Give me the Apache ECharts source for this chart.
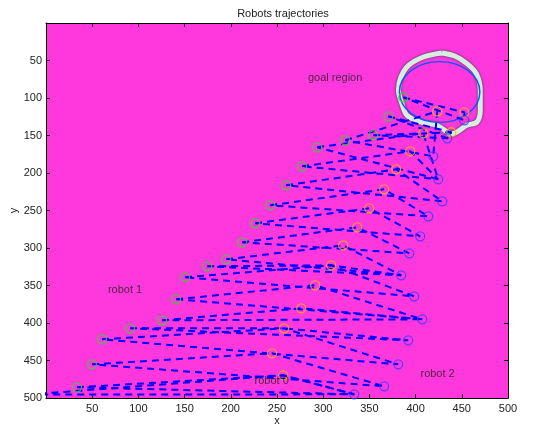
<!DOCTYPE html>
<html><head><meta charset="utf-8">
<script src="https://cdn.jsdelivr.net/npm/echarts@6/dist/echarts.min.js"></script>
<style>html,body{margin:0;padding:0;background:#fff}#c{width:539px;height:428px}</style>
</head><body><div id="c"></div>
<script>
// Axis settings
const axisMin = 0, axisMax = 500, axisStep = 50;
const titleText = 'Robots trajectories';

// Robot 1 (green circles), first point lies outside the view (left edge)
const robot1 = [[-20,495.5],[33.6,485.7],[49.8,455.1],[60.6,421.7],[91.0,407.1],[125.6,396.4],[140.8,368.4],[150.5,339.1],[174.4,324.4],[195.0,315.1],[212.3,292.4],[226.3,267.1],[242.6,243.1],[259.9,216.4],[277.2,191.1],[293.5,165.7],[323.8,156.4],[354.1,149.7],[370.4,124.4],[386.6,99.1]];
// Robot 0 (yellow circles)
const robot0 = [[256.7,469.7],[244.7,440.4],[257.7,407.1],[276.2,380.4],[291.3,349.7],[308.6,323.1],[321.6,296.4],[336.8,272.4],[349.8,247.1],[366.0,221.7],[379.0,195.1],[394.2,171.1],[408.3,147.1],[423.4,117.7],[438.6,145.7],[452.7,119.1]];
// Robot 2 (blue circles)
const robot2 = [[333.6,495.1],[366.0,484.4],[381.2,455.1],[392.0,423.1],[407.2,395.1],[398.5,364.4],[384.4,336.4],[393.1,307.1],[405.0,284.4],[413.7,257.7],[428.9,237.7],[424.5,208.4],[419.1,177.7],[434.3,153.7],[452.7,129.7]];
// Which positions are linked at each step: [robot1 index, robot0 index, robot2 index]
const steps = [[0,0,0],[1,0,0],[2,1,1],[3,2,2],[4,2,3],[5,3,4],[6,4,4],[7,5,5],[8,5,6],[9,6,6],[10,7,7],[11,8,8],[12,9,9],[13,10,10],[14,11,11],[15,12,11],[16,13,12],[17,14,13],[18,14,13],[19,15,14]];

// Goal region
const goalCenter = [426, 92];
const goalRadii = [43.5, 40.5];
const goalRing = [[428.5,40],[442.9,44.4],[455.6,54.1],[465.7,67.5],[470,89.7],[470,116.4],[466.4,132],[455.6,136.4],[439.4,147.5],[423.1,136.4],[405,132],[390.6,123],[385.2,107.5],[381.5,89.7],[384.1,72],[392.4,56.4],[408.6,45.3],[428.5,40]];

// Text annotations
const notes = [
  {name:'goal region', value:[312.9,72.9]},
  {name:'robot 1', value:[85.5,356.4]},
  {name:'robot 0', value:[244.2,477.7]},
  {name:'robot 2', value:[423.8,468.4]}
];

const FONT = 'Liberation Sans, Arial, sans-serif';
const tickFmt = v => (v === 0 ? '' : String(v));

const series = [];
series.push({
  type:'line', data: goalRing, smooth: 0.35, symbol:'none', silent:true, z:1,
  lineStyle:{color:'#d6eee2', width:5, shadowColor:'rgba(40,60,50,0.95)', shadowBlur:3}
});
series.push({
  type:'custom', data:[goalCenter.concat(goalRadii)], silent:true, z:2,
  renderItem:(params, api)=>{
    const c = api.coord([api.value(0), api.value(1)]);
    const s = api.size([api.value(2), api.value(3)]);
    const rx = Math.abs(s[0]), ry = Math.abs(s[1]);
    return {type:'circle', x:c[0], y:c[1], scaleY: ry/rx,
      shape:{cx:0, cy:0, r:rx},
      style:{fill:'none', stroke:'#0a55ff', lineWidth:1.5, strokeNoScale:true}};
  }
});
steps.forEach(st => {
  const a = robot1[st[0]], b = robot0[st[1]], c = robot2[st[2]];
  series.push({
    type:'line', data:[a,b,c,a], symbol:'none', silent:true, z:3, clip:true,
    lineStyle:{color:'#0000ff', width:2, type:[7,5]}
  });
});
function markers(arr, col){
  return {type:'scatter', data:arr, symbol:'circle', symbolSize:9, silent:true, z:4, clip:true,
    itemStyle:{color:'rgba(0,0,0,0)', borderColor:col, borderWidth:1.3}};
}
series.push(markers(robot1, '#22dd22'));
series.push(markers(robot0, '#ffb400'));
series.push(markers(robot2, '#3a3aff'));
series.push({
  type:'scatter', data:notes, symbolSize:0, silent:true, z:5,
  label:{show:true, position:'inside', formatter:'{b}', color:'#222', fontSize:11, fontFamily:FONT}
});

const axisCommon = {
  type:'value', min:axisMin, max:axisMax, interval:axisStep,
  splitLine:{show:false},
  axisLine:{show:true, onZero:false, lineStyle:{color:'#000', width:1}},
  axisTick:{show:true, inside:true, length:4, lineStyle:{color:'#000'}}
};

const chart = echarts.init(document.getElementById('c'), null, {renderer:'canvas'});
chart.setOption({
  animation:false,
  backgroundColor:'#ffffff',
  title:{text:titleText, left:278, top:3, textAlign:'center',
    textStyle:{fontSize:11, fontWeight:'normal', color:'#222', fontFamily:FONT}},
  grid:{left:46, right:31, top:23, bottom:30, show:true, backgroundColor:'#ff38de', borderWidth:0,
    containLabel:false, outerBoundsMode:'none'},
  xAxis:[
    Object.assign({}, axisCommon, {position:'bottom', name:'x', nameLocation:'middle', nameGap:17, nameMoveOverlap:false,
      nameTextStyle:{fontSize:11, color:'#222', fontFamily:FONT},
      axisLabel:{formatter:tickFmt, fontSize:11, color:'#222', margin:5, fontFamily:FONT}}),
    Object.assign({}, axisCommon, {position:'top', axisLabel:{show:false}})
  ],
  yAxis:[
    Object.assign({}, axisCommon, {inverse:true, position:'left', name:'y', nameLocation:'middle', nameGap:27, nameRotate:90, nameMoveOverlap:false,
      nameTextStyle:{fontSize:11, color:'#222', fontFamily:FONT},
      axisLabel:{formatter:tickFmt, fontSize:11, color:'#222', margin:4, fontFamily:FONT}}),
    Object.assign({}, axisCommon, {inverse:true, position:'right', axisLabel:{show:false}})
  ],
  series: series
});
</script>
</body></html>
